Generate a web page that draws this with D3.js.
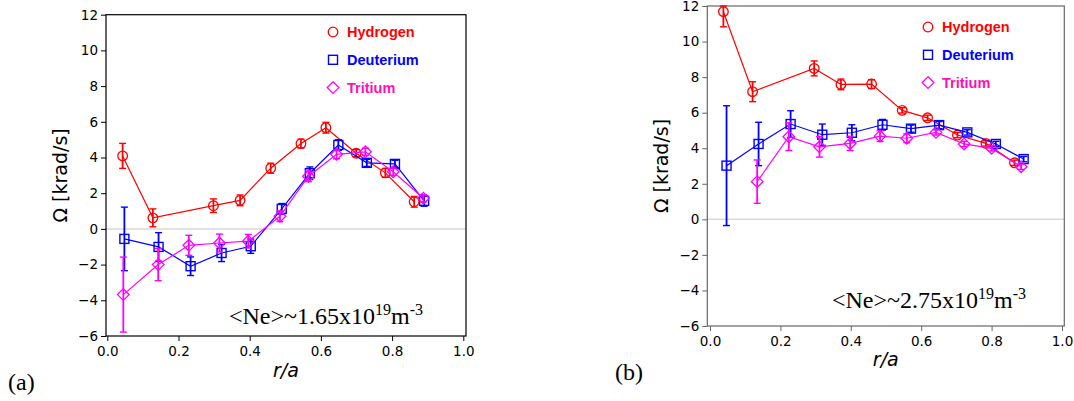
<!DOCTYPE html>
<html><head><meta charset="utf-8">
<script src="https://cdn.jsdelivr.net/npm/d3@7"></script>
<style>body{margin:0;background:#fff} svg{display:block}</style>
</head><body>
<svg id="c" width="1074" height="401"></svg>
<script>
// ---- data ----
const seriesNames = ["Hydrogen", "Deuterium", "Tritium"];
const xTicks = [0.0, 0.2, 0.4, 0.6, 0.8, 1.0];
const yTicks = [-6, -4, -2, 0, 2, 4, 6, 8, 10, 12];

// panel (a)  <Ne>~1.65e19
const aHx = [0.043, 0.128, 0.298, 0.373, 0.459, 0.544, 0.614, 0.699, 0.781, 0.862];
const aHy = [4.09, 0.62, 1.30, 1.60, 3.40, 4.78, 5.67, 4.24, 3.14, 1.52];
const aHe = [0.70, 0.50, 0.38, 0.30, 0.28, 0.25, 0.30, 0.20, 0.25, 0.30];
const aDx = [0.048, 0.144, 0.234, 0.321, 0.403, 0.490, 0.569, 0.649, 0.729, 0.808, 0.890];
const aDy = [-0.56, -1.01, -2.09, -1.35, -0.97, 1.12, 3.12, 4.70, 3.70, 3.64, 1.57];
const aDe = [1.78, 0.80, 0.52, 0.48, 0.40, 0.30, 0.35, 0.30, 0.20, 0.20, 0.30];
const aTx = [0.045, 0.143, 0.229, 0.315, 0.396, 0.485, 0.565, 0.644, 0.725, 0.803, 0.888];
const aTy = [-3.68, -2.00, -0.92, -0.79, -0.69, 0.71, 2.95, 4.18, 4.32, 3.20, 1.72];
const aTe = [2.10, 0.90, 0.56, 0.50, 0.38, 0.30, 0.30, 0.25, 0.20, 0.20, 0.20];

// panel (b)  <Ne>~2.75e19
const bHx = [0.038, 0.121, 0.296, 0.372, 0.459, 0.546, 0.618, 0.703, 0.784, 0.865];
const bHy = [11.68, 7.18, 8.49, 7.59, 7.61, 6.13, 5.71, 4.74, 4.27, 3.18];
const bHe = [0.85, 0.56, 0.42, 0.30, 0.25, 0.15, 0.15, 0.15, 0.15, 0.15];
const bDx = [0.047, 0.138, 0.229, 0.319, 0.403, 0.490, 0.571, 0.651, 0.731, 0.812, 0.891];
const bDy = [3.02, 4.24, 5.36, 4.76, 4.87, 5.32, 5.10, 5.30, 4.89, 4.24, 3.39];
const bDe = [3.37, 1.22, 0.75, 0.60, 0.45, 0.30, 0.20, 0.20, 0.15, 0.15, 0.15];
const bTx = [0.134, 0.224, 0.311, 0.398, 0.483, 0.559, 0.642, 0.722, 0.800, 0.884];
const bTy = [2.12, 4.65, 4.08, 4.27, 4.68, 4.56, 4.89, 4.24, 3.99, 2.96];
const bTe = [1.22, 0.78, 0.58, 0.40, 0.30, 0.25, 0.15, 0.15, 0.15, 0.15];

const annotA = ["<Ne>~1.65x10", "19", "m", "-3"];
const annotB = ["<Ne>~2.75x10", "19", "m", "-3"];

// ---- drawing ----
const colors = ["#ff0000", "#0000ff", "#ff00ff"];
const legendTextColors = ["#ff0000", "#0000ff", "#ff10b4"];
const svg = d3.select("#c");

function zip(xs, ys, es) { return xs.map((x, i) => ({x, y: ys[i], e: es[i]})); }

const panels = [
  {left: 106, right: 466, top: 14.7, bottom: 336, x0: 107.3, x1: 463.3, frame: "#000",
   series: [zip(aHx, aHy, aHe), zip(aDx, aDy, aDe), zip(aTx, aTy, aTe)],
   legX: 333, legY: 32, annot: annotA, annX: 229, annY: 324,
   ylabX: 60, xlabY: 377, tag: "(a)", tagX: 8, tagY: 390},
  {left: 707.3, right: 1064.3, top: 6, bottom: 326, x0: 710, x1: 1062, frame: "#666",
   series: [zip(bHx, bHy, bHe), zip(bDx, bDy, bDe), zip(bTx, bTy, bTe)],
   legX: 928, legY: 27, annot: annotB, annX: 832, annY: 308,
   ylabX: 661, xlabY: 366, tag: "(b)", tagX: 615, tagY: 380}
];

function marker(g, kind, cx, cy, color) {
  if (kind === 0) {
    g.append("circle").attr("cx", cx).attr("cy", cy).attr("r", 4.8)
      .attr("fill", "none").attr("stroke", color).attr("stroke-width", 1.3);
  } else if (kind === 1) {
    g.append("rect").attr("x", cx - 4.5).attr("y", cy - 4.5).attr("width", 9).attr("height", 9)
      .attr("fill", "none").attr("stroke", color).attr("stroke-width", 1.4);
  } else {
    const s = 5.8;
    g.append("path").attr("d", `M${cx},${cy - s}L${cx + s},${cy}L${cx},${cy + s}L${cx - s},${cy}Z`)
      .attr("fill", "none").attr("stroke", color).attr("stroke-width", 1.3);
  }
}

panels.forEach(p => {
  const x = d3.scaleLinear().domain([0, 1]).range([p.x0, p.x1]);
  const y = d3.scaleLinear().domain([-6, 12]).range([p.bottom, p.top]);
  const g = svg.append("g");

  // zero line
  g.append("line").attr("x1", p.left).attr("x2", p.right).attr("y1", y(0)).attr("y2", y(0))
    .attr("stroke", "#d9d9d9").attr("stroke-width", 1.5);

  // axes
  const ya = g.append("g").attr("transform", `translate(${p.left},0)`)
    .call(d3.axisLeft(y).tickValues(yTicks).tickSize(5).tickPadding(3)
      .tickFormat(d => d < 0 ? "\u2212" + Math.abs(d) : String(d)));
  const xa = g.append("g").attr("transform", `translate(0,${p.bottom})`)
    .call(d3.axisBottom(x).tickValues(xTicks).tickSize(5).tickPadding(5)
      .tickFormat(d3.format(".1f")));
  [ya, xa].forEach(a => {
    a.select(".domain").remove();
    a.selectAll("line").attr("stroke", p.frame).attr("stroke-width", 1);
    a.selectAll("text").attr("font-family", "DejaVu Sans").attr("font-size", 13.5).attr("fill", "#000");
  });

  // frame
  g.append("rect").attr("x", p.left).attr("y", p.top)
    .attr("width", p.right - p.left).attr("height", p.bottom - p.top)
    .attr("fill", "none").attr("stroke", p.frame).attr("stroke-width", 1.2);

  // series
  p.series.forEach((data, k) => {
    const c = colors[k];
    const sg = g.append("g");
    sg.append("path").datum(data)
      .attr("d", d3.line().x(d => x(d.x)).y(d => y(d.y)))
      .attr("fill", "none").attr("stroke", c).attr("stroke-width", 1.2);
    data.forEach(d => {
      const cx = x(d.x), yt = y(Math.min(12, d.y + d.e)), yb = y(d.y - d.e);
      sg.append("line").attr("x1", cx).attr("x2", cx).attr("y1", yt).attr("y2", yb)
        .attr("stroke", c).attr("stroke-width", 1.8);
      [yt, yb].forEach(yy => sg.append("line").attr("x1", cx - 3.5).attr("x2", cx + 3.5)
        .attr("y1", yy).attr("y2", yy).attr("stroke", c).attr("stroke-width", 1.4));
      marker(sg, k, cx, y(d.y), c);
    });
  });

  // legend
  seriesNames.forEach((n, k) => {
    const ly = p.legY + k * 27.8;
    marker(g, k, p.legX, ly, colors[k]);
    g.append("text").attr("x", p.legX + 14).attr("y", ly).attr("dy", "0.36em")
      .attr("font-family", "Liberation Sans, Arial, sans-serif").attr("font-weight", "bold")
      .attr("font-size", 14.5).attr("fill", legendTextColors[k]).text(n);
  });

  // axis labels
  g.append("text").attr("transform", `translate(${p.ylabX},${(p.top + p.bottom) / 2}) rotate(-90)`)
    .attr("text-anchor", "middle").attr("dominant-baseline", "central")
    .attr("font-family", "DejaVu Sans").attr("font-size", 19).text("\u03A9 [krad/s]");
  g.append("text").attr("x", (p.left + p.right) / 2).attr("y", p.xlabY)
    .attr("text-anchor", "middle").attr("font-family", "DejaVu Sans").attr("font-style", "italic")
    .attr("font-size", 19).text("r/a");

  // annotation
  const t = g.append("text").attr("x", p.annX).attr("y", p.annY)
    .attr("font-family", "Liberation Serif, Times New Roman, serif").attr("font-size", 24).attr("fill", "#000");
  t.append("tspan").text(p.annot[0]);
  t.append("tspan").attr("dy", -9).attr("font-size", 16).text(p.annot[1]);
  t.append("tspan").attr("dy", 9).text(p.annot[2]);
  t.append("tspan").attr("dy", -9).attr("font-size", 16).text(p.annot[3]);

  // panel tag
  svg.append("text").attr("x", p.tagX).attr("y", p.tagY)
    .attr("font-family", "Liberation Serif, Times New Roman, serif").attr("font-size", 24)
    .text(p.tag);
});
</script>
</body></html>
